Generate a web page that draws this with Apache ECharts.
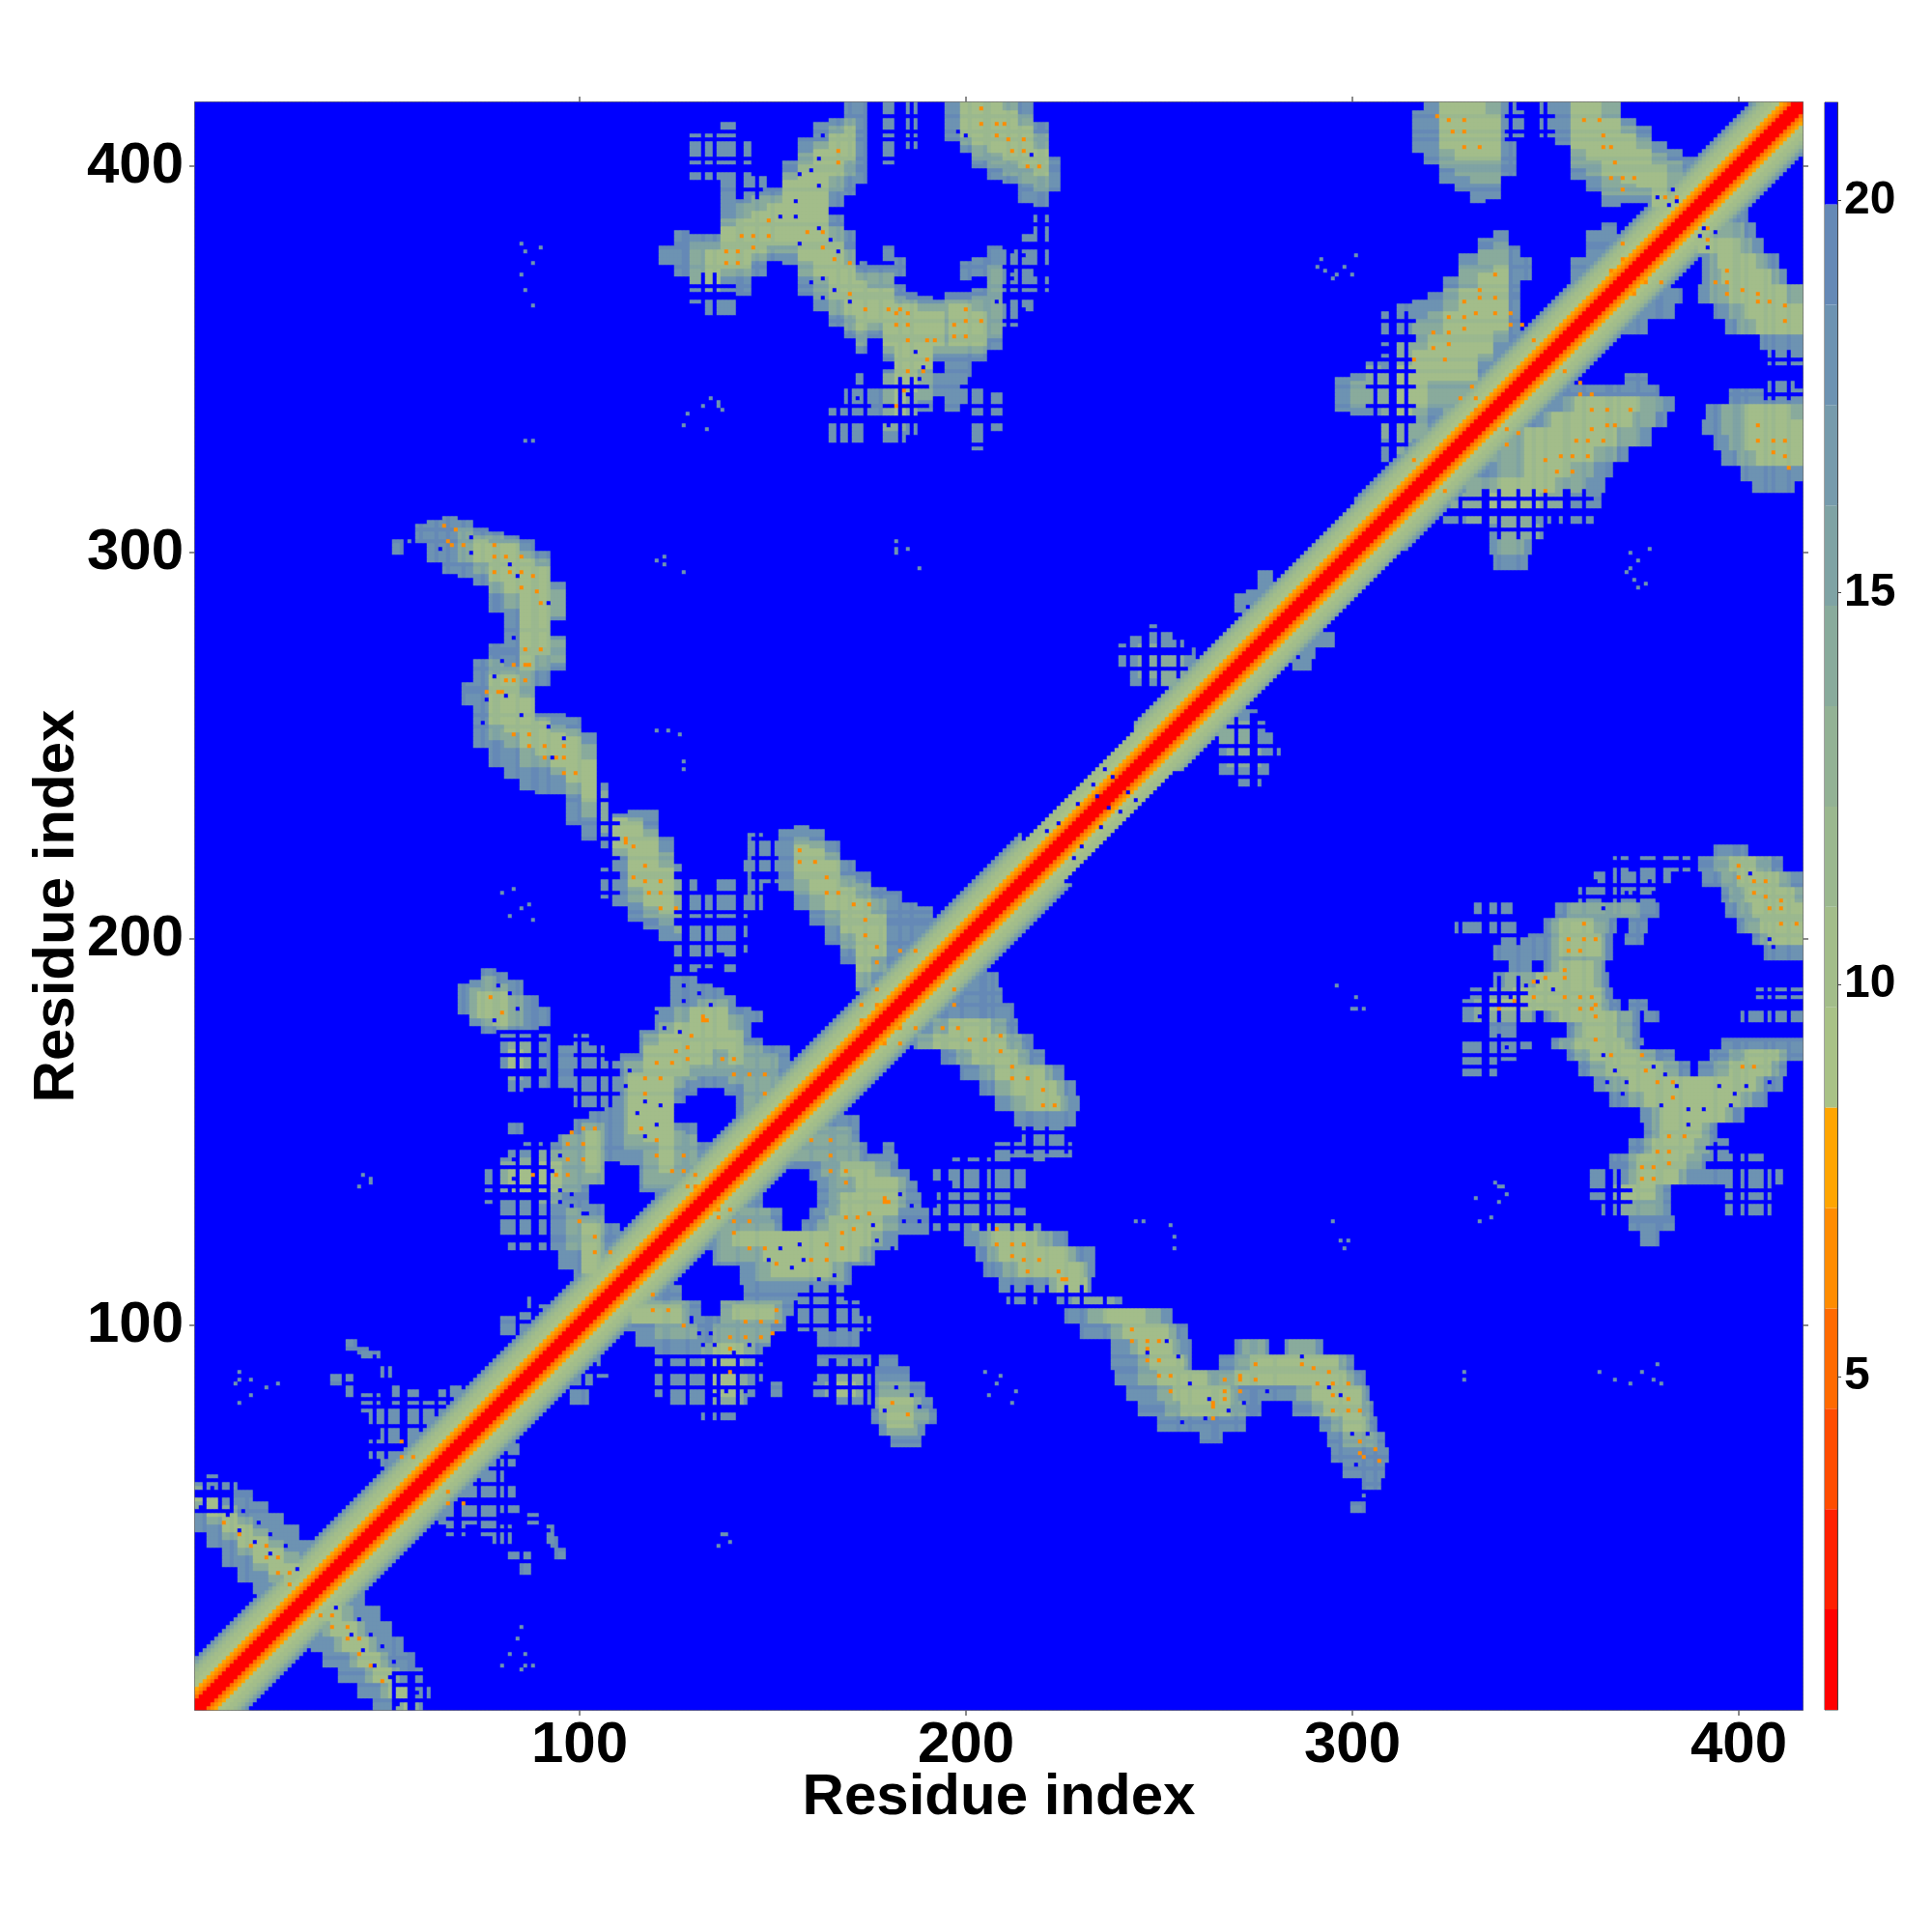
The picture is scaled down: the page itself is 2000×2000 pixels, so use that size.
<!DOCTYPE html>
<html><head><meta charset="utf-8">
<style>html,body{margin:0;padding:0;background:#fff}#c{width:2000px;height:2000px}</style>
<script src="https://cdn.jsdelivr.net/npm/echarts@6/dist/echarts.min.js"></script>
</head><body><div id="c"></div>
<script>
const residueCount = 416;
const tickResidues = [100, 200, 300, 400];
const axisTitle = 'Residue index';
const scaleEdges = [0.75,2.03,3.31,4.59,5.87,7.15,8.43,9.71,10.99,12.27,13.55,14.83,16.11,17.39,18.67,19.95,21.25];
const scaleColors = ['#ff0000','#ff2000','#ff4c00','#ff6a00','#ff8c00','#ffa500','#a9c287','#a3bd8a','#9bb88f','#93b295','#89ab9c','#7fa3a4','#769bac','#6d93b2','#6589b6','#0000ff'];
const scaleTicks = [5, 10, 15, 20];
const noContact = 21;

// distance by sequence separation along the main diagonal (separation 0, 1, 2, ...)
const bandProfile = [1,1.5,2,5.5,6.5,8,9,9.5,10,10.5,11.5,13,15,18];
// [first residue, last residue, band half width]
const bandWidths = [[1,214,13],[215,243,10],[244,300,12],[301,416,13]];

// [y0, y1, x0, x1] blocks of the triangle below the diagonal
const outerRuns = [
[0,3,47,60],[4,7,43,61],[8,11,38,59],[12,15,34,57],[16,19,31,54],[20,23,29,51],[24,27,27,48],[28,31,29,44],
[36,38,85,87],[40,42,82,87],[40,42,94,96],[43,45,78,82],[43,45,91,94],[46,48,66,70],[46,48,75,82],[46,48,91,93],[49,51,64,79],[49,51,87,89],[52,54,66,85],[55,58,63,83],[59,62,72,80],[63,65,77,83],[66,68,72,85],[69,71,75,84],
[80,83,98,102],[84,86,96,103],[87,89,90,107],[90,92,92,105],
[76,78,132,140],[78,79,127,128],[79,81,122,143],[82,85,120,146],[82,85,150,152],[86,90,120,147],[91,94,120,147],[95,98,115,149],[95,98,162,172],[99,102,112,128],[99,102,130,153],[99,102,157,175],[103,106,110,131],[103,106,137,155],[103,106,157,172],[107,110,143,168],[107,110,110,126],
[111,115,142,170],[116,119,135,176],[120,123,134,182],[124,127,132,152],[124,127,158,190],[128,130,133,152],[128,130,160,190],[131,134,134,147],[131,134,162,188],[135,137,137,148],[135,137,162,187],[138,140,141,149],[138,140,160,185],[141,144,146,182],[145,147,152,174],[145,147,179,181],[148,150,155,172],[151,154,159,172],[155,158,162,168],
[148,151,215,226],[144,147,208,227],[152,155,213,228],[156,159,208,229],[160,163,204,228],[164,167,199,225],[168,171,194,220],[172,175,187,217],[176,179,184,213],[180,183,190,212],[184,187,195,209],[188,191,200,208],
[141,143,197,198],[141,143,201,211],[141,143,218,220],[138,140,192,217],[135,137,197,216],[131,134,193,212],[128,130,192,217],[125,127,192,219],
[121,124,200,226],[117,120,203,233],[113,116,205,233],[109,112,209,232],[105,108,211,218],[105,108,224,240],[101,104,226,253],[97,100,230,257],[93,96,238,258],[93,96,270,278],[93,96,283,292],[89,92,238,258],[89,92,266,300],[85,88,239,303],[81,84,242,304],[77,80,245,276],[77,80,285,305],[73,76,250,272],[73,76,292,306],[70,72,261,266],[69,72,294,308],[65,68,295,309],[61,64,298,308],[58,60,303,307],[52,54,300,303],
[90,92,162,175],[90,92,178,182],[86,89,162,175],[86,89,177,185],[82,85,160,175],[82,85,177,189],[79,81,167,175],[79,81,177,191],[75,78,176,192],[72,74,178,189],[69,71,181,188],
[257,259,260,275],[254,256,260,277],[250,253,260,279],[247,249,265,281],[243,246,266,278],[240,242,270,276],
[276,279,289,295],[273,275,287,290],[270,272,285,289],
[344,346,371,376],[341,343,354,379],[337,340,351,383],[333,336,346,381],[328,332,334,377],[324,327,331,371],[320,323,332,367],[316,319,323,365],[312,315,320,364],[308,311,323,351],[308,311,354,362],[304,307,335,350],[300,303,336,346],[296,299,337,345],
[386,389,390,402],[382,385,387,404],[378,381,385,406],[374,377,391,410],[370,373,391,412],[365,369,390,416],[361,364,394,416],[357,360,397,416],[353,356,406,416],[349,352,408,416],
[365,368,374,385],[361,364,369,383],[357,360,371,376],
[343,345,408,414],[339,342,398,416],[335,338,392,416],[331,334,391,416],[327,330,394,416],[323,326,396,416],[319,322,401,416],[316,318,404,414],
[222,224,394,402],[218,221,366,371],[218,221,375,387],[218,221,390,411],[214,217,363,382],[214,217,391,416],[210,213,359,380],[210,213,396,416],[206,209,353,379],[206,209,397,416],[206,209,332,341],[202,205,350,368],[202,205,372,376],[202,205,400,416],[202,205,327,342],[199,201,339,367],[199,201,371,375],[199,201,404,416],[195,198,337,367],[195,198,407,416],[192,194,341,346],[192,194,350,365],[188,191,337,366],[185,187,331,367],[185,187,405,416],[182,184,328,369],[182,184,372,376],[179,181,328,347],[179,181,350,374],[179,181,376,379],[179,181,401,416],[175,178,336,342],[175,178,356,374],[172,174,328,346],[172,174,352,375],[172,174,396,416],[169,171,328,342],[169,171,356,383],[169,171,393,416],[165,168,329,338],[165,168,359,387],[165,168,390,412],[161,164,363,411],[157,160,367,407],[153,156,375,401],[149,152,376,394],[145,148,372,397],[141,144,367,407],[137,140,362,411],[133,136,362,382],[133,136,397,409],[129,132,365,382],[129,132,397,408],[125,128,372,383],[121,124,375,379]
];
const outerValue = 17.8;
const coreRuns = [
[0,3,53,58],[4,7,49,57],[8,11,45,53],[12,15,41,50],[16,19,37,47],[20,23,34,44],[24,27,31,41],[28,31,30,37],
[101,106,112,128],[97,100,120,130],[101,106,137,152],[96,100,135,149],[90,95,132,145],[84,89,133,143],[78,83,134,142],
[112,116,146,168],[117,120,136,175],[121,124,136,178],[125,127,136,150],[125,127,162,182],[128,130,136,149],[128,130,164,182],[131,134,165,184],[135,138,165,184],[139,142,163,180],[143,147,155,172],[148,151,158,170],
[172,175,188,214],[176,179,192,210],[168,171,198,216],[164,167,204,222],[160,163,208,225],[156,159,212,226],
[125,127,202,215],[121,124,204,222],[117,120,206,228],[113,116,210,231],[109,112,222,231],[105,107,228,238],[101,104,232,250],[97,100,238,254],[93,96,243,255],[93,96,272,277],[93,96,284,290],[89,92,245,257],[89,92,270,298],[85,88,245,300],[81,84,250,270],[81,84,286,303],[77,80,252,272],[77,80,290,304],[73,76,295,304],[69,72,298,306],
[86,89,166,173],[82,85,164,173],[82,85,178,185],[79,81,177,188],[75,78,178,190],[72,74,180,187],
[250,256,263,275],[245,249,268,276],
[337,340,355,380],[333,336,350,378],[328,332,338,374],[324,327,336,368],[320,323,338,362],[316,319,330,360],[312,315,326,356],[308,311,330,346],[304,307,338,348],[300,303,338,344],
[382,385,389,401],[378,381,388,403],[374,377,393,407],[370,373,393,410],[365,369,393,416],[361,364,398,416],[357,360,400,416],
[335,338,396,416],[331,334,396,416],[327,330,398,416],[323,326,400,416],
[218,221,394,408],[214,217,396,413],[210,213,398,416],[206,209,400,416],[202,205,402,416],[199,201,406,416],[206,209,356,374],[202,205,352,366],[199,201,352,365],[195,198,352,365],[192,194,352,364],[188,191,340,364],[185,187,336,365],[182,184,332,366],[179,181,332,346],[179,181,352,372],[175,178,358,372],[172,174,354,372],[169,171,358,378],[169,171,398,412],[165,168,362,384],[165,168,394,410],[161,164,366,406],[157,160,372,403],[153,156,378,398],[149,152,378,392],[145,148,376,392],[141,144,372,390],[137,140,372,386],[133,136,368,380],[129,132,370,380]
];
const coreValue = 14;
const ridgeRuns = [
[0,3,55,57],[4,7,51,55],[8,11,47,51],[12,15,43,48],[16,19,39,45],[20,23,36,42],[24,27,33,38],
[101,105,114,126],[102,105,140,150],[90,95,135,142],[82,88,135,141],
[117,120,148,172],[121,124,140,175],[125,128,165,178],[129,134,168,182],[135,138,172,182],[113,116,150,165],[139,142,168,176],
[172,175,192,210],[168,171,202,213],[164,167,208,220],[160,163,212,223],[176,179,196,206],[156,159,216,224],
[121,124,207,218],[117,120,209,226],[113,116,214,230],[109,112,224,231],[101,104,236,246],[97,100,241,252],[93,96,245,253],[89,92,248,256],[85,88,250,262],[85,88,270,298],[81,84,254,268],[81,84,290,302],[77,80,256,268],[77,80,293,302],[89,92,274,296],[73,76,298,303],
[82,85,166,171],[78,81,178,186],[74,77,180,186],
[328,332,345,368],[333,336,352,372],[337,340,358,374],[324,327,345,362],[320,323,345,356],[316,319,338,352],[312,315,335,348],
[378,381,390,400],[374,377,395,404],[370,373,396,408],[365,369,398,412],[361,364,402,416],[357,360,405,416],
[331,334,402,416],[327,330,402,416],[323,326,405,416],[335,338,402,413],
[214,217,400,410],[210,213,402,414],[206,209,404,416],[202,205,406,416],[199,201,408,416],[218,221,398,404],[192,194,354,362],[188,191,348,362],[185,187,342,364],[182,184,336,364],[179,181,354,368],[175,178,360,368],[172,174,358,370],[169,171,362,374],[169,171,402,410],[165,168,366,380],[165,168,398,408],[161,164,372,404],[157,160,376,400],[153,156,380,396],[149,152,380,390],[145,148,378,388],[141,144,374,386],[137,140,374,384],[133,136,370,378],[196,201,354,364],[202,205,354,362]
];
const ridgeValue = 10;

// thin lattice areas [y0, y1, x0, x1]: there the residues below fall beyond the cutoff
const latticeBlocks = [
[125,143,192,221],[145,151,208,227],[99,110,157,175],[165,175,328,346],[199,210,327,345],[210,222,359,387],
[129,140,397,411],[141,147,392,407],[129,140,362,372],[179,187,400,416],[40,60,66,92],[76,92,120,147],
[304,316,320,362],[340,350,407,416],[240,258,262,281],[0,10,52,61],[79,91,160,176],[59,71,72,85],[84,92,90,107],[105,110,211,240],[179,190,328,345],[346,352,408,416]
];
const latticeColumns = [52,56,57,60,68,69,74,79,81,85,90,91,94,101,104,122,123,128,133,134,136,141,146,160,165,166,170,174,194,195,199,204,205,207,212,216,217,221,226,230,236,255,258,264,265,270,274,275,280,297,303,306,322,323,328,334,335,338,343,347,350,355,356,360,366,367,369,374,379,380,385,394,399,400,402,407,409,413];
const latticeRows = [3,7,10,14,42,43,47,50,54,55,59,63,66,70,75,78,79,84,88,89,92,100,105,108,127,128,132,135,141,142,146,150,167,170,174,178,183,186,201,205,206,211,214,219,220,242,246,247,250,255,306,310,311,314,341,345,350];
const latticeStep = 2;

// [x, y] cells in the close-contact colour
const hotCells = [
[33,25],[36,25],[36,22],[40,22],[40,19],[43,19],[43,15],[46,12],[49,8],[66,57],[66,54],[70,54],
[179,132],[180,132],[179,133],[172,128],[168,124],[171,125],[175,129],[169,128],[168,120],[164,121],[160,117],[164,117],[151,116],[140,127],[140,124],[136,128],[144,127],[144,120],[148,120],[139,130],[136,130],[165,140],[169,140],[165,144],[169,137],[160,148],[165,148],
[151,104],[151,101],[143,101],[147,101],[143,97],[139,97],[147,97],[150,98],[139,94],[139,88],[127,100],[119,104],[123,104],[115,110],[119,108],
[181,80],[185,77],
[194,177],[198,177],[201,174],[205,174],[209,171],[209,175],[212,167],[212,164],[216,164],[220,161],[220,157],[223,157],[197,187],[197,183],[183,177],[179,173],[183,173],[187,177],
[224,114],[225,112],[226,112],[216,114],[219,117],[215,117],[212,118],[212,121],[208,121],[215,121],[212,121],[208,125],
[243,99],[243,96],[247,96],[250,96],[247,94],[247,91],[250,91],[250,87],[253,87],[253,83],[264,80],[264,79],[264,76],[267,86],[267,83],[267,81],[271,87],[271,86],[271,83],[275,90],[275,86],[287,90],[290,89],[291,85],[294,88],[295,85],[299,85],[295,82],[299,81],[295,78],[299,78],[302,78],[302,70],[303,66],[302,67],[306,68],[307,65],
[394,370],[397,370],[397,367],[401,368],[405,367],[405,365],[408,365],[412,364],[412,360],[392,384],[392,381],[397,373],[376,370],[380,370],[373,367],
[405,333],[405,329],[409,329],[412,329],[409,326],[412,325],[413,322],
[372,337],[366,333],[368,333],[362,332],[365,329],[361,329],[358,329],[357,325],[361,325],[354,325],[353,321],[357,321],[350,324],[350,316],[362,337],[366,337],[362,341],[359,341],[359,344],[355,347],[340,332],[343,331],[337,332],[340,328],[324,316],
[356,200],[360,200],[363,200],[360,204],[356,197],[359,197],[355,192],[355,190],[350,190],[347,189],[342,184],[347,185],[355,185],[359,185],[362,185],[359,182],[362,182],[363,183],[363,180],[338,182],[363,174],[367,170],[375,170],[376,166],[379,163],[383,163],[383,159],[401,167],[404,167],[382,149],[386,149],[379,145],[382,145],[382,142],[378,141],[375,141],[375,138],[378,138],
[400,219],[400,216],[404,215],[407,215],[404,212],[407,211],[411,210],[411,208],[408,208],[411,204],[415,204]
];
const hotValue = 6.5;

// [x, y] cells that stay beyond the cutoff inside the contact clouds
const holeCells = [
[131,98],[134,98],[132,95],[135,95],[129,92],[133,91],[137,88],[130,88],[133,85],[138,83],[128,85],[141,89],[143,92],[144,95],[140,93],[143,83],[135,82],[138,79],[147,91],[145,88],
[177,122],[176,126],[186,131],[181,120],[183,134],[188,127],[184,127],[155,115],[158,117],[162,112],[166,113],[149,117],[152,120],[157,121],
[365,170],[368,166],[371,163],[366,163],[370,160],[375,172],[378,167],[381,165],[380,157],[384,162],[387,156],[387,152],[391,156],[398,157],[399,160],[402,162],[395,162],[408,163],
[338,182],[335,170],[338,168],[340,172],[333,180],[343,188],[341,185],[345,188],[352,187],[348,189],
[365,210],[365,208],[371,212],[373,212],[377,215],[378,212],[374,216],[363,215],[403,217],[408,200],[409,198],
[242,238],[244,236],[237,234],[240,233],[235,229],[230,224],[228,221],[391,384],[394,383],[392,379],[390,382],
[56,3],[58,5],[53,2],[55,7],[51,9],[47,12],[52,13],[44,16],[49,17],[46,20],[41,20],[43,24],[37,27],
[252,96],[247,93],[255,92],[258,85],[263,81],[268,78],[262,76],[256,75],[272,80],[278,83],[294,84],[297,82],[287,92],[300,72],[304,72],[301,64],
[174,87],[176,84],[170,82],[166,85],[186,82],[182,84],[188,79],[179,78]
];
const holeValue = 21;

// isolated cells at the far edge of the scale colour
const speckCells = [
[136,43],[138,46],[139,44],[137,46],
[80,12],[84,19],[85,22],[82,15],[86,15],[86,12],[88,12],[85,11],
[297,122],[299,122],[295,127],[298,120],[244,127],[246,127],[254,123],[254,120],[253,126],
[329,86],[329,88],[364,88],[368,86],[372,85],[375,88],[379,90],[378,86],[380,85],
[301,185],[301,182],[300,182],[303,182],[296,188],
[338,136],[338,132],[340,134],[332,133],[333,127],[336,128],[339,136],[337,137],
[371,295],[372,300],[374,298],[376,292],[377,301],[373,293],[374,291],[372,296],
[206,82],[208,85],[212,80],[205,88],[209,87],[213,83],
[301,52],[303,56]
];
const speckValue = 18.5;

const categories = [];
for (let i = 1; i <= residueCount; i++) categories.push(String(i));

// distance matrix, indexed [row][column] with residues counted from 1
const matrix = [];
for (let y = 0; y <= residueCount; y++) matrix.push(new Array(residueCount + 1).fill(noContact));
function put(y, x, v) { if (x >= 1 && y >= 1 && x <= residueCount && y <= residueCount) { matrix[y][x] = v; matrix[x][y] = v; } }
function paint(runs, v) {
  runs.forEach(function (r) {
    for (let y = Math.max(r[0], 1); y <= r[1]; y++) for (let x = r[2]; x <= r[3]; x++) if (x > y) put(y, x, v);
  });
}
paint(outerRuns, outerValue);
paint(coreRuns, coreValue);
paint(ridgeRuns, ridgeValue);
// rows and columns on the lattice list read a little farther everywhere, and vanish in the thin areas
const onColumn = {}, onRow = {};
latticeColumns.forEach(function (r) { onColumn[r] = true; });
latticeRows.forEach(function (r) { onRow[r] = true; });
for (let y = 1; y <= residueCount; y++) for (let x = y + 1; x <= residueCount; x++) {
  if (matrix[y][x] < noContact && (onColumn[x] || onRow[y])) put(y, x, matrix[y][x] + latticeStep);
}
latticeBlocks.forEach(function (b) {
  for (let y = Math.max(b[0], 1); y <= b[1]; y++) for (let x = b[2]; x <= b[3]; x++) {
    if (x > y && (onColumn[x] || onRow[y])) put(y, x, noContact);
  }
});
bandWidths.forEach(function (b) {
  for (let y = b[0]; y <= b[1]; y++) for (let s = 0; s <= b[2]; s++) {
    const p = bandProfile[Math.min(s, bandProfile.length - 1)];
    if (y + s <= residueCount && matrix[y][y + s] > p) put(y, y + s, p);
  }
});
holeCells.forEach(function (c) { put(c[1], c[0], holeValue); });
hotCells.forEach(function (c) { put(c[1], c[0], hotValue); });
speckCells.forEach(function (c) { put(c[1], c[0], speckValue); });

const cells = [];
for (let y = 1; y <= residueCount; y++) for (let x = 1; x <= residueCount; x++) cells.push([x - 1, y - 1, matrix[y][x]]);

const pieces = scaleColors.map(function (c, i) { return { gte: scaleEdges[i], lt: scaleEdges[i + 1], color: c }; });
const isTick = function (idx) { return tickResidues.indexOf(idx + 1) >= 0; };
const frame = { lineStyle: { color: '#666', width: 1.5 } };
const tickStyle = { show: true, length: 6, alignWithLabel: true, interval: isTick, lineStyle: { color: '#666', width: 1.5 } };
const labelFont = { fontFamily: 'Liberation Sans', fontWeight: 'bold', color: '#000' };

const barSeries = scaleColors.map(function (c, i) {
  return { type: 'bar', xAxisIndex: 2, yAxisIndex: 2, stack: 'scale', barWidth: '100%', animation: false, silent: true,
    itemStyle: { color: c }, data: [scaleEdges[i + 1] - (i === 0 ? 0 : scaleEdges[i])] };
});

const chart = echarts.init(document.getElementById('c'), null, { renderer: 'canvas', width: 2000, height: 2000 });
chart.setOption({
  animation: false,
  backgroundColor: '#fff',
  grid: [
    { left: 202, top: 106, width: 1664, height: 1664, show: true, backgroundColor: '#0000ff', borderColor: '#666', borderWidth: 1.5, z: 0 },
    { left: 1889, top: 106, width: 13, height: 1664, show: true, borderColor: '#444', borderWidth: 1 }
  ],
  xAxis: [
    { type: 'category', gridIndex: 0, data: categories, position: 'bottom', axisLine: frame, axisTick: tickStyle, splitLine: { show: false },
      axisLabel: Object.assign({ show: true, interval: isTick, fontSize: 60, margin: 7 }, labelFont),
      name: axisTitle, nameLocation: 'middle', nameGap: 91, nameMoveOverlap: false, nameTextStyle: Object.assign({ fontSize: 60, verticalAlign: 'middle' }, labelFont) },
    { type: 'category', gridIndex: 0, data: categories, position: 'top', axisLine: frame, axisTick: tickStyle, axisLabel: { show: false } },
    { type: 'category', gridIndex: 1, data: ['scale'], show: false }
  ],
  yAxis: [
    { type: 'category', gridIndex: 0, data: categories, position: 'left', axisLine: frame, axisTick: tickStyle, splitLine: { show: false },
      axisLabel: Object.assign({ show: true, interval: isTick, fontSize: 60, margin: 12, padding: [6, 0, 0, 0] }, labelFont),
      name: axisTitle, nameLocation: 'middle', nameGap: 143, nameMoveOverlap: false, nameTextStyle: Object.assign({ fontSize: 60, verticalAlign: 'middle' }, labelFont) },
    { type: 'category', gridIndex: 0, data: categories, position: 'right', axisLine: frame, axisTick: tickStyle, axisLabel: { show: false } },
    { type: 'value', gridIndex: 1, position: 'right', min: scaleEdges[0], max: scaleEdges[scaleEdges.length - 1], splitLine: { show: false },
      axisLine: { show: true, lineStyle: { color: '#444', width: 1 } },
      axisTick: { show: true, length: 4, customValues: scaleTicks, lineStyle: { color: '#444' } },
      axisLabel: Object.assign({ show: true, fontSize: 48, margin: 7, padding: [8, 0, 0, 0], customValues: scaleTicks }, labelFont) }
  ],
  visualMap: { type: 'piecewise', show: false, seriesIndex: 0, dimension: 2, pieces: pieces },
  series: [
    { type: 'heatmap', xAxisIndex: 0, yAxisIndex: 0, data: cells, progressive: 0, animation: false, silent: true, emphasis: { disabled: true } }
  ].concat(barSeries)
});
</script></body></html>
